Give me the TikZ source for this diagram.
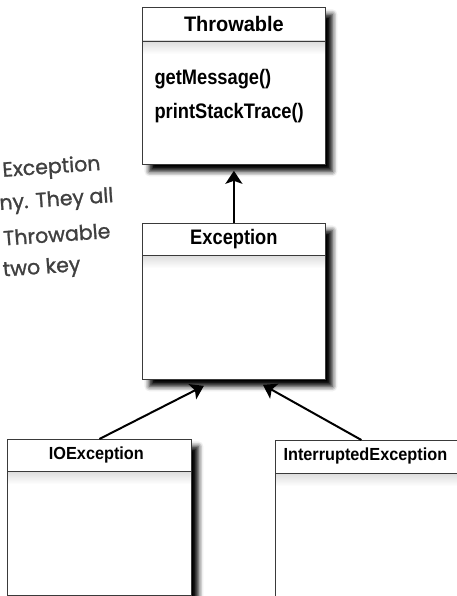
\documentclass[tikz,border=0pt]{standalone}
\usepackage{fontspec}
\setmainfont{Liberation Sans}
\newfontfamily\handfont[FakeBold=1.2]{Poppins}
\usetikzlibrary{positioning,arrows.meta,shadows.blur}
\definecolor{BoxLine}{HTML}{3A3A3A}
\definecolor{NoteText}{HTML}{404040}
\newcommand\narrow[2][0.87]{\scalebox{#1}[1]{#2}}

\begin{document}
\begin{tikzpicture}[x=1pt,y=-1pt,
    classbox/.style={draw=BoxLine,line width=0.8pt,fill=white,anchor=north west,inner sep=0pt,
      blur shadow={shadow xshift=7pt,shadow yshift=-7pt,shadow blur radius=5pt,shadow opacity=100}},
    bigname/.style={font=\bfseries\fontsize{21}{24}\selectfont},
    smallname/.style={font=\bfseries\fontsize{17.5}{20}\selectfont},
    extends/.style={line width=2pt,-{Stealth[length=13pt,width=17pt,inset=3pt]}},
    note/.style={font=\handfont\fontsize{20.5}{24}\selectfont,text=NoteText,anchor=base east,rotate=4,inner sep=0pt}]
    \useasboundingbox (0,0) rectangle (456,596);

    \node[note] (note1) at (101,170) {Exception};
    \node[note] (note2) at (114,202) {ny. They all};
    \node[note] (note3) at (111,238) {Throwable};
    \node[note] (note4) at (81,271)  {two key};

    \node[classbox,minimum width=183pt,minimum height=157pt] (throwable) at (142,7) {};
    \node[classbox,minimum width=183pt,minimum height=156pt] (exception) at (142,223) {};
    \node[classbox,minimum width=184pt,minimum height=156pt] (ioexc) at (7,439) {};
    \node[classbox,minimum width=184pt,minimum height=156pt] (interexc) at (275,440) {};

    \fill[top color=black!14,bottom color=white] ([shift={(1pt,-34pt)}]throwable.north west) rectangle ([shift={(-1pt,-47pt)}]throwable.north east);
    \fill[top color=black!14,bottom color=white] ([shift={(1pt,-32pt)}]exception.north west) rectangle ([shift={(-1pt,-45pt)}]exception.north east);
    \fill[top color=black!14,bottom color=white] ([shift={(1pt,-32pt)}]ioexc.north west) rectangle ([shift={(-1pt,-45pt)}]ioexc.north east);
    \fill[top color=black!14,bottom color=white] ([shift={(1pt,-33pt)}]interexc.north west) rectangle ([shift={(-1pt,-46pt)}]interexc.north east);

    \draw[BoxLine,line width=0.8pt] ([yshift=-34pt]throwable.north west) -- ([yshift=-34pt]throwable.north east);
    \draw[BoxLine,line width=0.8pt] ([yshift=-32pt]exception.north west) -- ([yshift=-32pt]exception.north east);
    \draw[BoxLine,line width=0.8pt] ([yshift=-32pt]ioexc.north west) -- ([yshift=-32pt]ioexc.north east);
    \draw[BoxLine,line width=0.8pt] ([yshift=-33pt]interexc.north west) -- ([yshift=-33pt]interexc.north east);

    \node[bigname] (throwableName) at ([yshift=-17pt]throwable.north) {\narrow[0.95]{Throwable}};
    \node[bigname,anchor=base west] (getMsg) at ([shift={(9pt,-78pt)}]throwable.north west) {\narrow{getMessage()}};
    \node[bigname,anchor=base west] (printTrace) at ([shift={(9pt,-112pt)}]throwable.north west) {\narrow{printStackTrace()}};
    \node[bigname] (exceptionName) at ([yshift=-16pt]exception.north) {\narrow{Exception}};
    \node[smallname] (ioexcName) at ([shift={(-3pt,-16pt)}]ioexc.north) {\narrow[0.93]{IOException}};
    \node[smallname,anchor=west] (interexcName) at ([shift={(5pt,-16pt)}]interexc.north west) {\narrow[0.93]{InterruptedException}};

    \coordinate (tipT) at ([yshift=-6pt]throwable.south);
    \coordinate (tipL) at ([shift={(-30pt,-6pt)}]exception.south);
    \coordinate (tipR) at ([shift={(29pt,-5pt)}]exception.south);
    \draw[extends] (exception.north) -- (tipT);
    \draw[extends] (ioexc.north) -- (tipL);
    \draw[extends] ([xshift=-6pt]interexc.north) -- (tipR);
  \end{tikzpicture}
\end{document}
